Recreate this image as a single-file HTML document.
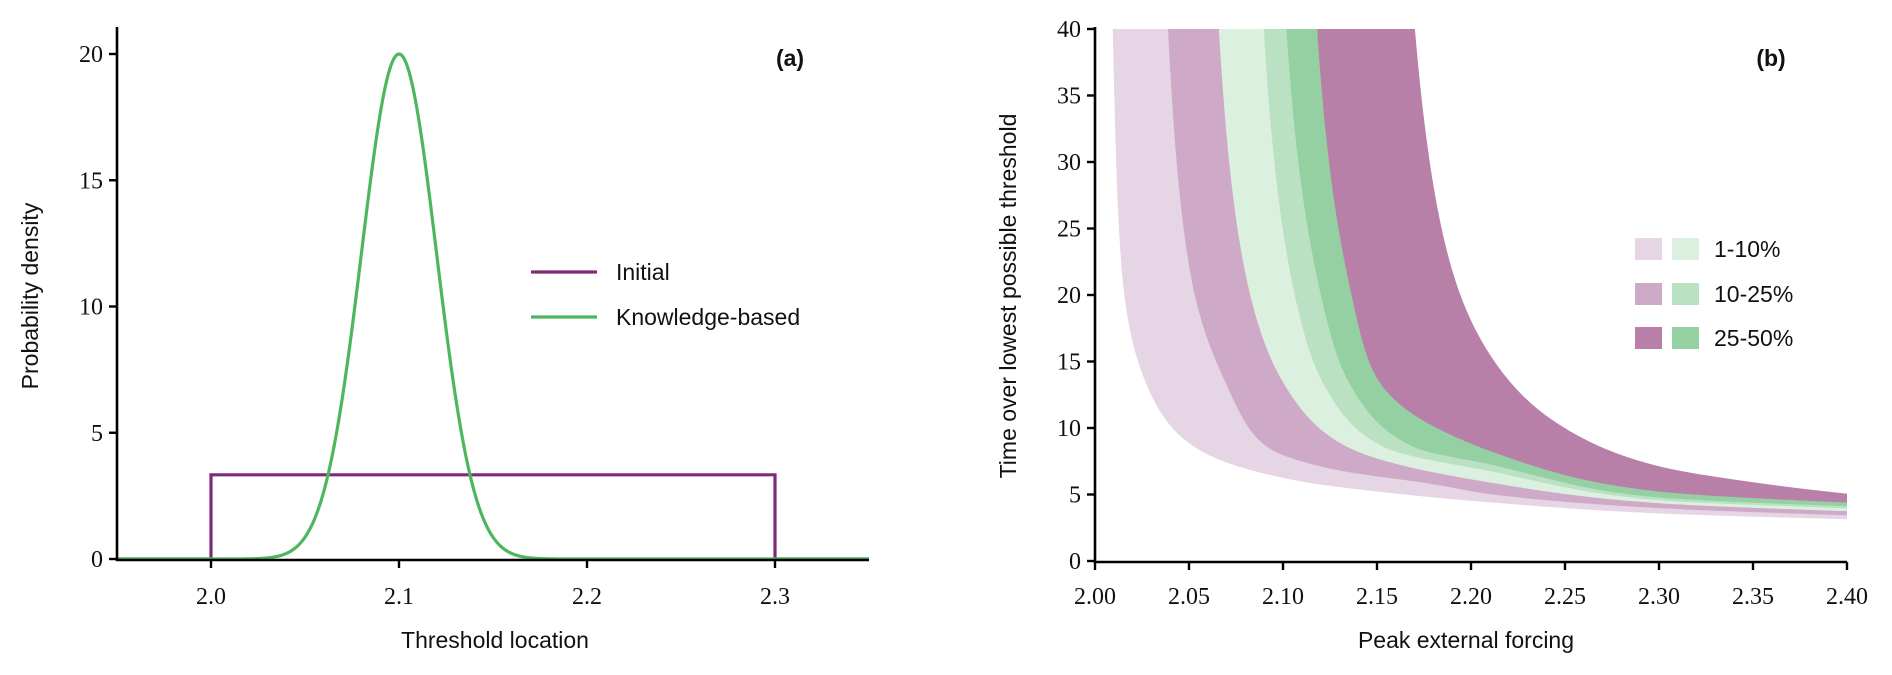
<!DOCTYPE html>
<html><head><meta charset="utf-8">
<style>
html,body{margin:0;padding:0;background:#fff;}
svg{display:block;}
.tick{font-family:"Liberation Serif",serif;font-size:24px;fill:#111;}
.lab{font-family:"Liberation Sans",sans-serif;font-size:23px;fill:#111;}
</style></head>
<body>
<svg id="fig" width="1892" height="675" viewBox="0 0 1892 675" xmlns="http://www.w3.org/2000/svg">
  <defs><clipPath id="clipB"><rect x="1095" y="29" width="752" height="532"/></clipPath></defs>
  <g id="panelA"></g>
  <g id="panelB"></g>
</svg>
<script>
// ---------- Panel (a) data ----------
const aXTicks = [2.0, 2.1, 2.2, 2.3];
const aYTicks = [0, 5, 10, 15, 20];
const uniformLow = [2.0];
const uniformHigh = [2.3];
const gaussMean = [2.1];
const gaussPeak = [20];

// ---------- Panel (b) data ----------
const bXTicks = [2.00, 2.05, 2.10, 2.15, 2.20, 2.25, 2.30, 2.35, 2.40];
const bYTicks = [0, 5, 10, 15, 20, 25, 30, 35, 40];
const bandLabels = ["1-10%", "10-25%", "25-50%"];
// boundary curves: [forcing, time] points
const bP1 = [[2.0096,40],[2.0149,21.1],[2.0266,13.6],[2.0532,8.57],[2.1064,6.09],[2.1596,5.1],[2.2128,4.4],[2.30,3.6],[2.40,3.16]];
const bP2 = [[2.039,40],[2.0516,21.1],[2.069,13.6],[2.092,8.57],[2.124,7.0],[2.177,5.86],[2.213,5.0],[2.30,4.0],[2.40,3.46]];
const bG1 = [[2.066,40],[2.0809,21.1],[2.0995,13.6],[2.1346,8.57],[2.213,5.85],[2.30,4.36],[2.40,3.76]];
const bG2 = [[2.090,40],[2.1048,21.1],[2.1207,13.6],[2.154,8.57],[2.213,6.7],[2.30,4.6],[2.40,3.98]];
const bG3 = [[2.102,40],[2.1186,21.1],[2.1346,13.6],[2.170,8.57],[2.213,7.2],[2.30,4.8],[2.40,4.14]];
const bG4 = [[2.118,40],[2.1346,21.1],[2.1505,13.6],[2.204,8.57],[2.213,8.1],[2.30,5.2],[2.40,4.36]];
const bP4 = [[2.170,40],[2.1915,21.1],[2.2128,14.9],[2.243,10.6],[2.30,7.1],[2.35,5.9],[2.40,5.04]];

const NS = "http://www.w3.org/2000/svg";
function mk(tag, attrs, parent){ const e=document.createElementNS(NS,tag); for(const k in attrs) e.setAttribute(k,attrs[k]); parent.appendChild(e); return e; }

// ---------- Panel (a) ----------
const A = document.getElementById('panelA');
const ax = v => 117 + (v - 1.95) / 0.4 * 752;
const ay = v => 559 - v * 25.25;

(function(){
  const h = 1 / (uniformHigh[0] - uniformLow[0]);
  const d = `M${ax(1.95)},${ay(0)} L${ax(uniformLow[0])},${ay(0)} L${ax(uniformLow[0])},${ay(h)} L${ax(uniformHigh[0])},${ay(h)} L${ax(uniformHigh[0])},${ay(0)} L${ax(2.35)},${ay(0)}`;
  const p = mk('path',{d:d,fill:'none',stroke:'#7e2a78','stroke-width':3.2},A);
  
  
})();
(function(){
  const sigma = 1 / (gaussPeak[0] * Math.sqrt(2*Math.PI));
  let d = '';
  for(let i=0;i<=800;i++){
    const x = 1.95 + 0.4*i/800;
    const y = gaussPeak[0]*Math.exp(-0.5*Math.pow((x-gaussMean[0])/sigma,2));
    d += (i?'L':'M') + ax(x).toFixed(2) + ',' + ay(y).toFixed(2);
  }
  const p = mk('path',{d:d,fill:'none',stroke:'#4fb660','stroke-width':3.2},A);
  
  
})();
(function(){
  const sp = mk('path',{d:`M117,27 L117,${ay(0)+1} L869,${ay(0)+1}`,fill:'none',stroke:'#000','stroke-width':2.6},A);
  
  
  aXTicks.forEach(v=>{
    mk('line',{x1:ax(v),x2:ax(v),y1:560,y2:568,stroke:'#000','stroke-width':2.4},A);
    const t = mk('text',{x:ax(v),y:604,'text-anchor':'middle',class:'tick'},A);
    t.textContent = v.toFixed(1);
    
    
  });
  aYTicks.forEach(v=>{
    mk('line',{x1:109,x2:117,y1:ay(v),y2:ay(v),stroke:'#000','stroke-width':2.4},A);
    const t = mk('text',{x:103,y:ay(v)+8,'text-anchor':'end',class:'tick'},A);
    t.textContent = v;
    
    
  });
  const xl = mk('text',{x:495,y:648,'text-anchor':'middle',class:'lab'},A);
  xl.textContent='Threshold location';
  
  
  const yl = mk('text',{x:38,y:296,'text-anchor':'middle',class:'lab',transform:'rotate(-90 38 296)'},A);
  yl.textContent='Probability density';
  
  
  const pl = mk('text',{x:790,y:66,'text-anchor':'middle',class:'lab','font-weight':'bold'},A);
  pl.textContent='(a)';
  
  
  const lg = mk('g',{},A);
  
  
  [['Initial','#7e2a78',272],['Knowledge-based','#4fb660',317]].forEach(([n,c,y])=>{
    const g = mk('g',{},lg);
    
    
    mk('line',{x1:531,x2:597,y1:y,y2:y,stroke:c,'stroke-width':3.2},g);
    const t = mk('text',{x:616,y:y+8,class:'lab'},g);
    t.textContent=n;
  });
})();

// ---------- Panel (b) ----------
const B = document.getElementById('panelB');
const bx = v => 1095 + (v - 2.0) / 0.4 * 752;
const by = v => 561 - v * 13.3;

// monotone cubic of forcing as a function of u = 1/time
function monoSample(pts){
  const n=pts.length, xs=pts.map(p=>1/p[1]), ys=pts.map(p=>p[0]);
  const d=[], m=new Array(n);
  for(let i=0;i<n-1;i++) d.push((ys[i+1]-ys[i])/(xs[i+1]-xs[i]));
  m[0]=d[0]; m[n-1]=d[n-2];
  for(let i=1;i<n-1;i++) m[i] = (d[i-1]*d[i]<=0)?0:(2/(1/d[i-1]+1/d[i]));
  const out=[];
  for(let i=0;i<n-1;i++){
    const h=xs[i+1]-xs[i];
    const steps=60;
    for(let s=(i?1:0);s<=steps;s++){
      const t=s/steps, t2=t*t, t3=t2*t;
      const F=(2*t3-3*t2+1)*ys[i]+(t3-2*t2+t)*h*m[i]+(-2*t3+3*t2)*ys[i+1]+(t3-t2)*h*m[i+1];
      const u=xs[i]+t*h;
      out.push([bx(F), by(1/u)]);
    }
  }
  return out;
}
const cols = {p1:'#e6d5e4', p2:'#cfa9c8', p3:'#b87fa8', g1:'#dcf0e0', g2:'#b9e1c2', g3:'#95d0a3'};
function band(L,R,col,name){
  const l=monoSample(L), r=monoSample(R).reverse();
  const pts=l.concat(r);
  const d='M'+pts.map(p=>p[0].toFixed(2)+','+p[1].toFixed(2)).join('L')+'Z';
  const p=mk('path',{d:d,fill:col,stroke:col,'stroke-width':0.6,'clip-path':'url(#clipB)'},B);
  
  
}
band(bP1,bP2,cols.p1,'purple-band-1-10');
band(bP2,bG1,cols.p2,'purple-band-10-25');
band(bG1,bP4,cols.p3,'purple-band-25-50');
band(bG1,bG2,cols.g1,'green-band-1-10');
band(bG2,bG3,cols.g2,'green-band-10-25');
band(bG3,bG4,cols.g3,'green-band-25-50');

(function(){
  const sp = mk('path',{d:`M1095,27 L1095,562 L1847,562`,fill:'none',stroke:'#000','stroke-width':2.6},B);
  
  
  bXTicks.forEach(v=>{
    mk('line',{x1:bx(v),x2:bx(v),y1:562,y2:570,stroke:'#000','stroke-width':2.4},B);
    const t=mk('text',{x:bx(v),y:604,'text-anchor':'middle',class:'tick'},B);
    t.textContent=v.toFixed(2);
    
    
  });
  bYTicks.forEach(v=>{
    mk('line',{x1:1087,x2:1095,y1:by(v),y2:by(v),stroke:'#000','stroke-width':2.4},B);
    const t=mk('text',{x:1081,y:by(v)+8,'text-anchor':'end',class:'tick'},B);
    t.textContent=v;
    
    
  });
  const xl=mk('text',{x:1466,y:648,'text-anchor':'middle',class:'lab'},B);
  xl.textContent='Peak external forcing';
  
  
  const yl=mk('text',{x:1016,y:296,'text-anchor':'middle',class:'lab',transform:'rotate(-90 1016 296)'},B);
  yl.textContent='Time over lowest possible threshold';
  
  
  const pl=mk('text',{x:1771,y:66,'text-anchor':'middle',class:'lab','font-weight':'bold'},B);
  pl.textContent='(b)';
  
  
  const lg=mk('g',{},B);
  
  
  const pc=[cols.p1,cols.p2,cols.p3], gc=[cols.g1,cols.g2,cols.g3], ys=[249,294,338];
  bandLabels.forEach((lab,i)=>{
    const g=mk('g',{},lg);
    
    
    mk('rect',{x:1635,y:ys[i]-11,width:27,height:22,fill:pc[i]},g);
    mk('rect',{x:1672,y:ys[i]-11,width:27,height:22,fill:gc[i]},g);
    const t=mk('text',{x:1714,y:ys[i]+8,class:'lab'},g);
    t.textContent=lab;
  });
})();
</script>
</body></html>
